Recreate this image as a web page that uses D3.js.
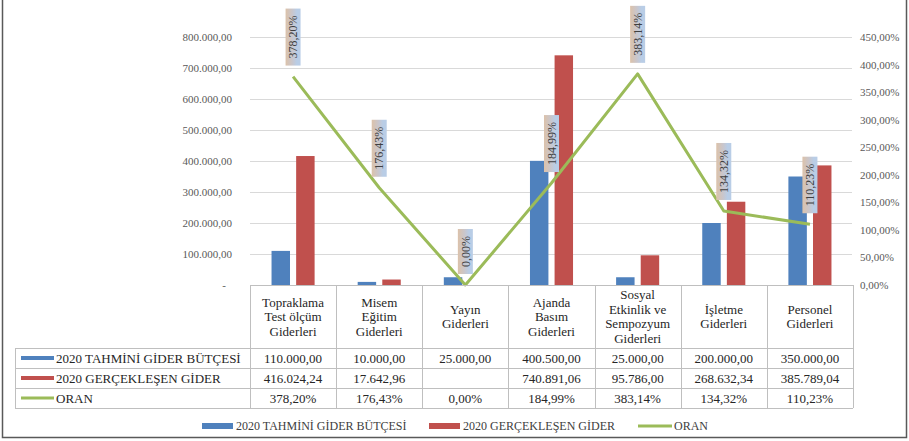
<!DOCTYPE html>
<html>
<head>
<meta charset="utf-8">
<script src="https://cdn.jsdelivr.net/npm/d3@7"></script>
</head>
<body style="margin:0; background:#fff">
<div id="chart"></div>
<script>
// Data
var categories = [
  ["Topraklama", "Test ölçüm", "Giderleri"],
  ["Misem", "Eğitim", "Giderleri"],
  ["Yayın", "Giderleri"],
  ["Ajanda", "Basım", "Giderleri"],
  ["Sosyal", "Etkinlik ve", "Sempozyum", "Giderleri"],
  ["İşletme", "Giderleri"],
  ["Personel", "Giderleri"]
];
var budget = [110000, 10000, 25000, 400500, 25000, 200000, 350000];
var actual = [416024.24, 17642.96, null, 740891.06, 95786, 268632.34, 385789.04];
var ratio = [378.20, 176.43, 0, 184.99, 383.14, 134.32, 110.23];
var seriesNames = ["2020 TAHMİNİ GİDER BÜTÇESİ", "2020 GERÇEKLEŞEN GİDER", "ORAN"];
var leftTicks = [0, 100000, 200000, 300000, 400000, 500000, 600000, 700000, 800000];
var rightTicks = [0, 50, 100, 150, 200, 250, 300, 350, 400, 450];

var colors = ["#4f81bd", "#c0504d", "#9bbb59"];
var FONT = "Liberation Serif";

var W = 909, H = 441;
var plot = { left: 250, right: 853, top: 37, bottom: 285 };

var tr = d3.formatLocale({ decimal: ",", thousands: ".", grouping: [3], currency: ["", ""] });
var fmtMoney = tr.format(",.2f");
var fmtPct = function (v) { return tr.format(".2f")(v) + "%"; };

var svg = d3.select("#chart").append("svg")
  .attr("width", W)
  .attr("height", H)
  .style("font-family", FONT);

// gradient for data label boxes (vertical in the rotated frame = left-to-right on screen)
var grad = svg.append("defs").append("linearGradient")
  .attr("id", "lblGrad")
  .attr("x1", "0").attr("x2", "0").attr("y1", "0").attr("y2", "1");
grad.append("stop").attr("offset", "0").attr("stop-color", "#dcc2aa");
grad.append("stop").attr("offset", "0.45").attr("stop-color", "#c9c6cc");
grad.append("stop").attr("offset", "0.75").attr("stop-color", "#b9cde6");

// Scales
var x = d3.scaleBand()
  .domain(d3.range(categories.length))
  .range([plot.left, plot.right]);

var xInner = d3.scaleBand()
  .domain([0, 1])
  .range([x.bandwidth() * 0.25, x.bandwidth() * 0.75])
  .paddingInner(0.25);

var y = d3.scaleLinear()
  .domain([0, 800000])
  .range([plot.bottom, plot.top]);

var y2 = d3.scaleLinear()
  .domain([0, 450])
  .range([plot.bottom, plot.top]);

// Gridlines
svg.append("g")
  .selectAll("line")
  .data(leftTicks.slice(1))
  .enter().append("line")
  .attr("x1", plot.left).attr("x2", plot.right - 1)
  .attr("y1", function (d) { return Math.round(y(d)) + 0.5; })
  .attr("y2", function (d) { return Math.round(y(d)) + 0.5; })
  .attr("stroke", "#d9d9d9");

// Left axis
var leftAxis = svg.append("g")
  .attr("transform", "translate(" + plot.left + ",0)")
  .call(d3.axisLeft(y).tickValues(leftTicks).tickSize(0).tickPadding(18)
    .tickFormat(function (d) { return d === 0 ? "-" : fmtMoney(d); }));
leftAxis.select(".domain").remove();
leftAxis.selectAll("text")
  .style("font-family", FONT)
  .style("font-size", "11px")
  .attr("fill", "#595959")
  .attr("dx", function (d) { return d === 0 ? -6 : 0; });

// Right axis
var rightAxis = svg.append("g")
  .attr("transform", "translate(" + plot.right + ",0)")
  .call(d3.axisRight(y2).tickValues(rightTicks).tickSize(0).tickPadding(7)
    .tickFormat(fmtPct));
rightAxis.select(".domain").remove();
rightAxis.selectAll("text")
  .style("font-family", FONT)
  .style("font-size", "11px")
  .attr("fill", "#595959");

// Bars
var groups = svg.append("g")
  .selectAll("g")
  .data(categories.map(function (c, i) { return i; }))
  .enter().append("g")
  .attr("transform", function (i) { return "translate(" + x(i) + ",0)"; });

groups.selectAll("rect")
  .data(function (i) { return [budget[i], actual[i]]; })
  .enter().append("rect")
  .filter(function (d) { return d != null; })
  .attr("x", function (d, j) { return xInner(j); })
  .attr("width", xInner.bandwidth())
  .attr("y", function (d) { return y(d); })
  .attr("height", function (d) { return y(0) - y(d); })
  .attr("fill", function (d, j) { return colors[j]; });

// Ratio line
var line = d3.line()
  .x(function (d, i) { return x(i) + x.bandwidth() / 2; })
  .y(function (d) { return y2(d); });

svg.append("path")
  .datum(ratio)
  .attr("d", line)
  .attr("fill", "none")
  .attr("stroke", colors[2])
  .attr("stroke-width", 3)
  .attr("stroke-linejoin", "round");

// Data labels (rotated, in shaded box)
var labels = svg.append("g")
  .selectAll("g")
  .data(ratio)
  .enter().append("g")
  .attr("transform", function (d, i) {
    return "translate(" + (x(i) + x.bandwidth() / 2) + "," + (y2(d) - 11) + ") rotate(-90)";
  });

labels.append("rect");
labels.append("text")
  .attr("x", 7)
  .attr("y", 0)
  .attr("dy", "0.35em")
  .style("font-family", FONT)
  .style("font-size", "12px")
  .attr("fill", "#404040")
  .text(function (d) { return fmtPct(d); });

labels.each(function () {
  var g = d3.select(this);
  var len = g.select("text").node().getComputedTextLength();
  g.select("rect")
    .attr("x", 0)
    .attr("y", -7.5)
    .attr("width", len + 14)
    .attr("height", 15)
    .attr("fill", "url(#lblGrad)");
});

// Data table
var rowY = [348, 368, 388, 408];
var tableLeft = 15;
var tbl = svg.append("g");
var gridColor = "#bfbfbf";

tbl.append("line")
  .attr("x1", plot.left).attr("x2", plot.right)
  .attr("y1", plot.bottom + 0.5).attr("y2", plot.bottom + 0.5)
  .attr("stroke", gridColor);
rowY.forEach(function (ry) {
  tbl.append("line")
    .attr("x1", tableLeft).attr("x2", plot.right)
    .attr("y1", ry + 0.5).attr("y2", ry + 0.5)
    .attr("stroke", gridColor);
});
d3.range(categories.length + 1).forEach(function (i) {
  var xx = i < categories.length ? x(i) : plot.right;
  tbl.append("line")
    .attr("x1", Math.round(xx) + 0.5).attr("x2", Math.round(xx) + 0.5)
    .attr("y1", plot.bottom).attr("y2", rowY[3])
    .attr("stroke", gridColor);
});
tbl.append("line")
  .attr("x1", tableLeft + 0.5).attr("x2", tableLeft + 0.5)
  .attr("y1", rowY[0]).attr("y2", rowY[3])
  .attr("stroke", gridColor);

// header text
categories.forEach(function (lines, i) {
  var cx = x(i) + x.bandwidth() / 2;
  var cy = (plot.bottom + rowY[0]) / 2;
  var lh = 14.5;
  var t = tbl.append("text")
    .attr("text-anchor", "middle")
    .style("font-family", FONT)
    .style("font-size", "13px")
    .attr("fill", "#262626");
  lines.forEach(function (ln, k) {
    t.append("tspan")
      .attr("x", cx)
      .attr("y", cy + (k - (lines.length - 1) / 2) * lh)
      .attr("dy", "0.35em")
      .text(ln);
  });
});

// row values
var rows = [
  budget.map(function (v) { return v == null ? "" : fmtMoney(v); }),
  actual.map(function (v) { return v == null ? "" : fmtMoney(v); }),
  ratio.map(fmtPct)
];
rows.forEach(function (vals, r) {
  var cy = (rowY[r] + rowY[r + 1]) / 2;
  if (r < 2) {
    tbl.append("rect")
      .attr("x", 21).attr("y", cy - 2).attr("width", 33).attr("height", 4)
      .attr("fill", colors[r]);
  } else {
    tbl.append("line")
      .attr("x1", 21).attr("x2", 54).attr("y1", cy).attr("y2", cy)
      .attr("stroke", colors[r]).attr("stroke-width", 3);
  }
  tbl.append("text")
    .attr("x", 56).attr("y", cy).attr("dy", "0.35em")
    .style("font-family", FONT)
    .style("font-size", "13px")
    .attr("fill", "#262626")
    .text(seriesNames[r]);
  vals.forEach(function (v, i) {
    tbl.append("text")
      .attr("x", x(i) + x.bandwidth() / 2)
      .attr("y", cy).attr("dy", "0.35em")
      .attr("text-anchor", "middle")
      .style("font-family", FONT)
      .style("font-size", "13px")
      .attr("fill", "#262626")
      .text(v);
  });
});

// Bottom legend
var legendX = [202, 429, 638];
var legY = 426;
var legend = svg.append("g")
  .selectAll("g")
  .data(seriesNames)
  .enter().append("g")
  .attr("transform", function (d, i) { return "translate(" + legendX[i] + "," + legY + ")"; });

legend.each(function (d, i) {
  var g = d3.select(this);
  if (i < 2) {
    g.append("rect").attr("x", 0).attr("y", -3).attr("width", 31).attr("height", 6).attr("fill", colors[i]);
  } else {
    g.append("line").attr("x1", 0).attr("x2", 34).attr("y1", 0).attr("y2", 0)
      .attr("stroke", colors[i]).attr("stroke-width", 3);
  }
  g.append("text")
    .attr("x", i < 2 ? 34 : 36)
    .attr("y", 0).attr("dy", "0.35em")
    .style("font-family", FONT)
    .style("font-size", "12px")
    .attr("fill", "#404040")
    .text(d);
});

// Outer frame
svg.append("path")
  .attr("d", "M2.5,0 V437.5 H906.5 V0")
  .attr("fill", "none")
  .attr("stroke", "#595959")
  .attr("stroke-width", 1.5);
</script>
</body>
</html>
